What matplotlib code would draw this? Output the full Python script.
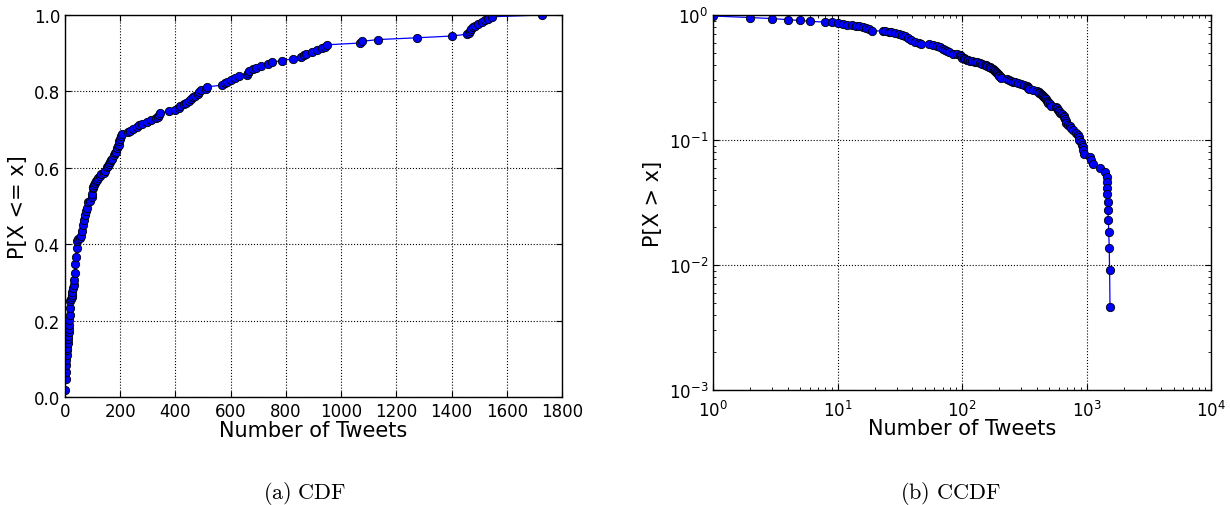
import numpy as np
import matplotlib
matplotlib.use("Agg")
import matplotlib.pyplot as plt

# distinct tweet counts per user and number of users having that count
tweet_counts = [1, 2, 3, 4, 5, 6, 8, 9, 10, 11, 12, 13, 14, 15, 16, 17, 18, 19,
                23, 24, 26, 27, 29, 31, 33, 35, 37, 39, 42, 45, 47, 54, 59, 63,
                67, 70, 73, 76, 79, 85, 91, 96, 99, 100, 103, 106, 109, 112, 115,
                120, 127, 131, 140, 146, 152, 156, 160, 164, 168, 172, 176, 180,
                184, 188, 191, 194, 197, 200, 204, 207, 228, 237, 247, 259, 267,
                280, 298, 312, 331, 336, 340, 344, 375, 400, 412, 418, 430, 440,
                450, 458, 464, 472, 480, 487, 493, 509, 515, 570, 580, 588, 602,
                615, 630, 660, 664, 667, 680, 690, 709, 737, 748, 785, 827, 853,
                865, 874, 895, 913, 931, 943, 950, 1068, 1077, 1135, 1276, 1400,
                1455, 1462, 1466, 1471, 1478, 1485, 1497, 1510, 1522, 1533, 1545,
                1726]
users_per_count = [4, 6, 4, 4, 3, 3, 3, 1, 3, 2, 2, 2, 2, 2, 3, 3, 4, 4,
                   1, 1, 1, 2, 2, 2, 3, 4, 5, 4, 5, 4, 1, 1, 1, 3,
                   3, 3, 3, 2, 2, 3, 1, 2, 2, 3, 1, 1, 1, 1, 1,
                   1, 1, 1, 1, 1, 2, 1, 1, 1, 1, 1, 2, 1,
                   1, 2, 1, 1, 2, 1, 2, 1, 1, 1, 1, 1, 1,
                   1, 1, 1, 1, 1, 1, 1, 1, 1, 1, 1, 1, 1,
                   1, 1, 1, 1, 1, 1, 1, 1, 1, 1, 1, 1, 1,
                   1, 1, 1, 1, 1, 1, 1, 1, 1, 1, 1, 1, 1,
                   1, 1, 1, 1, 1, 1, 1, 1, 1, 1, 1, 1,
                   1, 1, 1, 1, 1, 1, 1, 1, 1, 1, 1,
                   1]

cdf_xticks = [0, 200, 400, 600, 800, 1000, 1200, 1400, 1600, 1800]
cdf_yticks = [0.0, 0.2, 0.4, 0.6, 0.8, 1.0]

x = np.array(tweet_counts, dtype=float)
n = np.array(users_per_count, dtype=float)
cdf = np.cumsum(n) / n.sum()
ccdf = 1.0 - cdf

plt.rcParams['mathtext.fontset'] = 'cm'
plt.rcParams['font.family'] = ['DejaVu Sans']

fig = plt.figure(figsize=(12.3, 5.06), dpi=100)
ax1 = fig.add_axes([65/1230, 1-398/506, (562-65)/1230, (398-16)/506])
ax2 = fig.add_axes([713/1230, 1-391/506, (1211-713)/1230, (391-16)/506])

mk = dict(marker='o', color='blue', markerfacecolor='blue', markeredgecolor='black',
          markersize=6.0, markeredgewidth=0.6, linewidth=0.9)

ax1.plot(x, cdf, **mk)
ax1.set_xlim(0, 1800)
ax1.set_ylim(0, 1.0)
ax1.set_xticks(cdf_xticks)
ax1.set_yticks(cdf_yticks)
ax1.set_xlabel('Number of Tweets', fontsize=15, labelpad=0)
ax1.set_ylabel('P[X <= x]', fontsize=15, labelpad=4)

mask = ccdf > 0
ax2.loglog(x[mask], ccdf[mask], **mk)
ax2.set_xlim(1, 1e4)
ax2.set_ylim(1e-3, 1)
ax2.set_xlabel('Number of Tweets', fontsize=15, labelpad=-1)
ax2.set_ylabel('P[X > x]', fontsize=15, labelpad=4)

for ax in (ax1, ax2):
    ax.grid(True, which='major', color='black', linestyle=':', linewidth=0.8)
    ax.tick_params(which='both', direction='in', top=True, right=True, labelsize=12)
    ax.tick_params(which='major', length=4, width=0.8)
    ax.tick_params(which='minor', length=2, width=0.6)
    for s in ax.spines.values():
        s.set_linewidth(1.0)
ax2.tick_params(axis='x', which='major', pad=7)

fig.text(305/1230, 1-494/506, r'$\mathrm{(a)\ CDF}$', ha='center', va='center', fontsize=16)
fig.text(950/1230, 1-494/506, r'$\mathrm{(b)\ CCDF}$', ha='center', va='center', fontsize=16)

fig.savefig('out.png', dpi=100)
